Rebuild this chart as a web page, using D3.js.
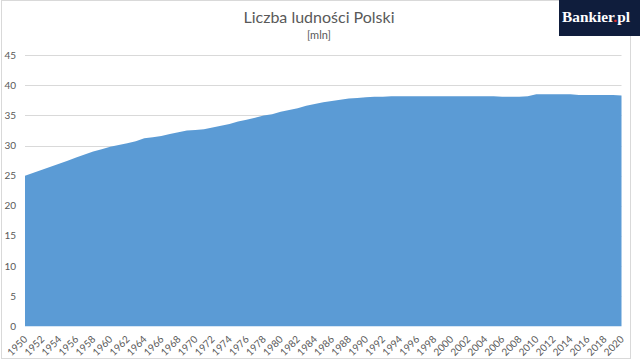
<!DOCTYPE html>
<html>
<head>
<meta charset="utf-8">
<script src="https://cdn.jsdelivr.net/npm/d3@7"></script>
<style>
  body { margin: 0; background: #fff; }
  svg { display: block; font-family: Lato, "Open Sans", sans-serif; }
</style>
</head>
<body>
<svg id="chart" width="640" height="361"></svg>
<script>
// population of Poland, millions
const years = d3.range(1950, 2021);
const population = [
  25.0, 25.5, 26.0, 26.5, 27.0, 27.5, 28.0, 28.5, 29.0, 29.4,
  29.8, 30.1, 30.4, 30.7, 31.2, 31.4, 31.6, 31.9, 32.2, 32.5,
  32.6, 32.7, 33.0, 33.3, 33.6, 34.0, 34.3, 34.6, 35.0, 35.2,
  35.6, 35.9, 36.2, 36.6, 36.9, 37.2, 37.4, 37.6, 37.8, 37.9,
  38.0, 38.1, 38.1, 38.2, 38.2, 38.2, 38.2, 38.2, 38.2, 38.2,
  38.2, 38.2, 38.2, 38.2, 38.2, 38.2, 38.1, 38.1, 38.1, 38.2,
  38.5, 38.5, 38.5, 38.5, 38.5, 38.4, 38.4, 38.4, 38.4, 38.4,
  38.3
];
const yTicks = [0, 5, 10, 15, 20, 25, 30, 35, 40, 45];
const xLabels = years.filter(y => y % 2 === 0);

const svg = d3.select("#chart");
const textCol = "#595959";

// frame
svg.append("rect")
  .attr("x", 1.5).attr("y", 0.5)
  .attr("width", 629).attr("height", 358)
  .attr("fill", "none")
  .attr("stroke", "#d9d9d9");

const x = d3.scaleLinear().domain([1950, 2020]).range([25, 621.5]);
const y = d3.scaleLinear().domain([0, 45]).range([326.3, 55.2]);

// gridlines
svg.append("g")
  .selectAll("line")
  .data(yTicks.filter(d => d > 0))
  .enter()
  .append("line")
    .attr("x1", 25).attr("x2", 621.5)
    .attr("y1", d => Math.round(y(d)) + 0.5)
    .attr("y2", d => Math.round(y(d)) + 0.5)
    .attr("stroke", "#d9d9d9");

// area
const area = d3.area()
  .x((d, i) => x(years[i]))
  .y0(y(0))
  .y1(d => y(d));

svg.append("path")
  .datum(population)
  .attr("d", area)
  .attr("fill", "#5b9bd5");

// y labels
svg.append("g")
  .selectAll("text")
  .data(yTicks)
  .enter()
  .append("text")
    .attr("x", 16)
    .attr("y", d => y(d) + 3.5)
    .attr("text-anchor", "end")
    .attr("font-size", 10)
    .attr("fill", textCol)
    .text(d => d);

// x labels, rotated
svg.append("g")
  .selectAll("text")
  .data(xLabels)
  .enter()
  .append("text")
    .attr("transform", d => `translate(${x(d) + 3},${340}) rotate(-45)`)
    .attr("text-anchor", "end")
    .attr("font-size", 10)
    .attr("fill", textCol)
    .text(d => d);

// titles
svg.append("text")
  .attr("x", 319).attr("y", 23)
  .attr("text-anchor", "middle")
  .attr("font-size", 16)
  .attr("fill", textCol)
  .text("Liczba ludności Polski");

svg.append("text")
  .attr("x", 319).attr("y", 39)
  .attr("text-anchor", "middle")
  .attr("font-size", 11)
  .attr("fill", textCol)
  .text("[mln]");

// logo
const logo = svg.append("g");
logo.append("rect")
  .attr("x", 559).attr("y", 0)
  .attr("width", 81).attr("height", 36)
  .attr("fill", "#0f1d3c");
const lt = logo.append("text")
  .attr("x", 562).attr("y", 22)
  .attr("textLength", 68)
  .attr("lengthAdjust", "spacingAndGlyphs")
  .attr("font-family", "'Liberation Serif', 'DejaVu Serif', serif")
  .attr("font-weight", "bold")
  .attr("font-size", 15)
  .attr("fill", "#fff");
lt.append("tspan").text("Bankier");
lt.append("tspan").attr("fill", "#e32a2a").text(".");
lt.append("tspan").text("pl");
</script>
</body>
</html>
